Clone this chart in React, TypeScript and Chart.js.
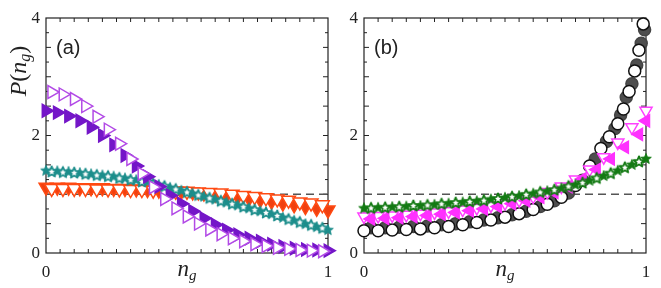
import React, { useEffect, useRef } from "react";
import { Chart, registerables } from "chart.js";

Chart.register(...registerables);

// ---------- panel (a) ----------
const xA = [0, 0.04, 0.08, 0.12, 0.16, 0.2, 0.24, 0.28, 0.32, 0.36, 0.4, 0.44, 0.48, 0.52, 0.56, 0.6, 0.64, 0.68, 0.72, 0.76, 0.8, 0.84, 0.88, 0.92, 0.96, 1];
const xAmid = [0.02, 0.06, 0.1, 0.14, 0.18, 0.22, 0.26, 0.3, 0.34, 0.38, 0.42, 0.46, 0.5, 0.54, 0.58, 0.62, 0.66, 0.7, 0.74, 0.78, 0.82, 0.86, 0.9, 0.94, 0.98];

const violetFilled = [2.42, 2.39, 2.33, 2.25, 2.14, 2.0, 1.84, 1.66, 1.48, 1.3, 1.13, 0.98, 0.84, 0.71, 0.59, 0.48, 0.39, 0.31, 0.25, 0.2, 0.15, 0.11, 0.08, 0.06, 0.05, 0.04];
const violetOpen = [2.74, 2.7, 2.62, 2.5, 2.32, 2.1, 1.86, 1.6, 1.35, 1.12, 0.92, 0.76, 0.62, 0.5, 0.4, 0.32, 0.25, 0.2, 0.15, 0.12, 0.09, 0.07, 0.05, 0.04, 0.03];
const tealFilled = [1.4, 1.39, 1.38, 1.36, 1.34, 1.32, 1.3, 1.27, 1.24, 1.21, 1.16, 1.11, 1.06, 1.01, 0.96, 0.91, 0.86, 0.81, 0.76, 0.71, 0.66, 0.6, 0.55, 0.49, 0.44, 0.39];
const tealOpen = [1.38, 1.37, 1.36, 1.34, 1.32, 1.3, 1.27, 1.24, 1.21, 1.17, 1.13, 1.08, 1.03, 0.98, 0.93, 0.88, 0.83, 0.78, 0.73, 0.68, 0.63, 0.57, 0.52, 0.47, 0.42];
const orangeFilled = [1.12, 1.12, 1.12, 1.11, 1.11, 1.11, 1.1, 1.1, 1.09, 1.08, 1.07, 1.06, 1.05, 1.04, 1.02, 1.0, 0.98, 0.96, 0.93, 0.91, 0.88, 0.85, 0.82, 0.79, 0.76, 0.73];
const orangeOpen = [1.1, 1.1, 1.1, 1.1, 1.09, 1.09, 1.09, 1.08, 1.08, 1.07, 1.06, 1.05, 1.05, 1.04, 1.03, 1.02, 1.0, 0.98, 0.96, 0.94, 0.92, 0.9, 0.87, 0.85, 0.82];

// ---------- panel (b) ----------
const xB = [0, 0.05, 0.1, 0.15, 0.2, 0.25, 0.3, 0.35, 0.4, 0.45, 0.5, 0.55, 0.6, 0.65, 0.7, 0.75, 0.8, 0.85, 0.9, 0.95, 1];
const xBmid = [0.025, 0.075, 0.125, 0.175, 0.225, 0.275, 0.325, 0.375, 0.425, 0.475, 0.525, 0.575, 0.625, 0.675, 0.725, 0.775, 0.825, 0.875, 0.925, 0.975];
const xBmidEnd = [0.025, 0.075, 0.125, 0.175, 0.225, 0.275, 0.325, 0.375, 0.425, 0.475, 0.525, 0.575, 0.625, 0.675, 0.725, 0.775, 0.825, 0.875, 0.925, 0.975, 1];

const circleOpenX = [0, 0.05, 0.1, 0.15, 0.2, 0.25, 0.3, 0.35, 0.4, 0.45, 0.5, 0.55, 0.6, 0.65, 0.7, 0.75, 0.8, 0.84, 0.87, 0.9, 0.92, 0.94, 0.96, 0.975, 0.99];
const circleOpen = [0.38, 0.38, 0.39, 0.4, 0.41, 0.43, 0.45, 0.48, 0.52, 0.56, 0.61, 0.67, 0.74, 0.83, 0.95, 1.15, 1.48, 1.78, 1.98, 2.2, 2.45, 2.75, 3.1, 3.45, 3.9];
const circleFilledX = [0.025, 0.075, 0.125, 0.175, 0.225, 0.275, 0.325, 0.375, 0.425, 0.475, 0.525, 0.575, 0.625, 0.675, 0.725, 0.775, 0.82, 0.86, 0.89, 0.91, 0.93, 0.95, 0.967, 0.983, 0.995];
const circleFilled = [0.43, 0.43, 0.44, 0.45, 0.46, 0.48, 0.5, 0.53, 0.56, 0.6, 0.65, 0.71, 0.79, 0.89, 1.02, 1.24, 1.6, 1.9, 2.12, 2.35, 2.65, 2.88, 3.2, 3.57, 3.8];
const magentaOpen = [0.62, 0.63, 0.64, 0.65, 0.67, 0.69, 0.71, 0.74, 0.77, 0.81, 0.85, 0.9, 0.96, 1.04, 1.13, 1.25, 1.42, 1.63, 1.88, 2.14, 2.42];
const magentaFilled = [0.58, 0.59, 0.6, 0.62, 0.64, 0.66, 0.69, 0.72, 0.75, 0.79, 0.84, 0.89, 0.95, 1.03, 1.13, 1.26, 1.42, 1.6, 1.8, 2.02, 2.25];
const greenFilled = [0.76, 0.77, 0.78, 0.79, 0.8, 0.82, 0.84, 0.86, 0.88, 0.91, 0.94, 0.97, 1.01, 1.05, 1.1, 1.16, 1.23, 1.31, 1.4, 1.5, 1.6];
const greenOpen = [0.76, 0.77, 0.78, 0.8, 0.81, 0.83, 0.85, 0.87, 0.89, 0.92, 0.95, 0.99, 1.03, 1.07, 1.13, 1.19, 1.27, 1.35, 1.45, 1.55];

// uniform-distribution reference level
const refX = [0, 1];
const refY = [1, 1];

const yTickValues = [0, 2, 4];
const xTickValues = [0, 1];

const SERIF = '"Liberation Serif", "DejaVu Serif", serif';
const SANS = '"Liberation Sans", Arial, sans-serif';

const pts = (xs: number[], ys: number[]) => ys.map((y, i) => ({ x: xs[i], y }));

function starMarker(outer: number, fill: string, stroke: string, lw: number) {
  const pad = Math.ceil(lw) + 1;
  const size = Math.ceil(outer * 2 + pad * 2);
  const c = document.createElement("canvas");
  c.width = size;
  c.height = size;
  const g = c.getContext("2d")!;
  g.translate(size / 2, size / 2);
  g.beginPath();
  for (let i = 0; i < 10; i++) {
    const r = i % 2 === 0 ? outer : outer * 0.45;
    const a = -Math.PI / 2 + (i * Math.PI) / 5;
    g.lineTo(r * Math.cos(a), r * Math.sin(a));
  }
  g.closePath();
  g.fillStyle = fill;
  g.fill();
  if (lw > 0) {
    g.lineWidth = lw;
    g.strokeStyle = stroke;
    g.lineJoin = "round";
    g.stroke();
  }
  return c;
}

type Run = { t: string; italic?: boolean; size: number; dy?: number };

function drawRuns(ctx: CanvasRenderingContext2D, runs: Run[], cx: number, baseY: number) {
  const font = (r: Run) => `${r.italic ? "italic " : ""}${r.size}px ${SERIF}`;
  let total = 0;
  for (const r of runs) {
    ctx.font = font(r);
    total += ctx.measureText(r.t).width;
  }
  let x = cx - total / 2;
  ctx.textAlign = "left";
  ctx.textBaseline = "alphabetic";
  for (const r of runs) {
    ctx.font = font(r);
    ctx.fillText(r.t, x, baseY + (r.dy || 0));
    x += ctx.measureText(r.t).width;
  }
}

const nG: Run[] = [
  { t: "n", italic: true, size: 23 },
  { t: "g", italic: true, size: 15, dy: 4 },
];
const pOfNg: Run[] = [
  { t: "P", italic: true, size: 24 },
  { t: "(", size: 24 },
  { t: "n", italic: true, size: 24 },
  { t: "g", italic: true, size: 16, dy: 4 },
  { t: ")", size: 24 },
];

const framePlugin = {
  id: "frameTicks",
  beforeDatasetsDraw(chart: any) {
    const { ctx, chartArea: a, scales } = chart;
    const xs = scales.x;
    const ys = scales.y;
    ctx.save();
    ctx.strokeStyle = "#222";
    ctx.lineWidth = 1.2;
    ctx.strokeRect(a.left, a.top, a.right - a.left, a.bottom - a.top);
    ctx.lineWidth = 1;
    ctx.beginPath();
    for (let i = 1; i < 20; i++) {
      const px = xs.getPixelForValue(i * 0.05);
      ctx.moveTo(px, a.bottom);
      ctx.lineTo(px, a.bottom - 4);
      ctx.moveTo(px, a.top);
      ctx.lineTo(px, a.top + 4);
    }
    for (let i = 1; i < 16; i++) {
      const py = ys.getPixelForValue(i * 0.25);
      const len = i % 2 === 0 ? 5 : 3;
      ctx.moveTo(a.left, py);
      ctx.lineTo(a.left + len, py);
      ctx.moveTo(a.right, py);
      ctx.lineTo(a.right - len, py);
    }
    ctx.stroke();
    ctx.restore();
  },
  afterDraw(chart: any, _args: any, opts: any) {
    const { ctx, chartArea: a, scales } = chart;
    const xs = scales.x;
    const ys = scales.y;
    ctx.save();
    ctx.fillStyle = "#222";
    ctx.font = `17px ${SERIF}`;
    ctx.textAlign = "right";
    ctx.textBaseline = "middle";
    for (const v of yTickValues) ctx.fillText(String(v), a.left - 6, ys.getPixelForValue(v) + 0.5);
    ctx.textAlign = "center";
    for (const v of xTickValues) ctx.fillText(String(v), xs.getPixelForValue(v), a.bottom + 20);
    drawRuns(ctx, nG, (a.left + a.right) / 2, a.bottom + 23);
    if (opts.yTitle) {
      ctx.save();
      ctx.translate(19, 71);
      ctx.rotate(-Math.PI / 2);
      drawRuns(ctx, pOfNg, 0, 7);
      ctx.restore();
    }
    ctx.font = `20px ${SANS}`;
    ctx.textAlign = "left";
    ctx.textBaseline = "middle";
    ctx.fillText(opts.tag, a.left + 10, 48);
    ctx.restore();
  },
};

function markerSet(
  data: { x: number; y: number }[],
  style: any,
  color: string,
  fill: string,
  radius: number,
  rotation = 0,
  borderWidth = 1.5
) {
  return {
    type: "scatter",
    data,
    showLine: false,
    clip: false,
    pointStyle: style,
    pointRotation: rotation,
    pointRadius: radius,
    pointBorderColor: color,
    pointBackgroundColor: fill,
    pointBorderWidth: borderWidth,
  };
}

function refLine() {
  return {
    type: "line",
    data: pts(refX, refY),
    borderColor: "#555",
    borderWidth: 1.4,
    borderDash: [8, 5],
    pointRadius: 0,
    showLine: true,
    clip: false,
  };
}

function makeChart(canvas: HTMLCanvasElement, datasets: any[], leftWidth: number, rightPad: number, tag: string, yTitle: boolean) {
  return new Chart(canvas, {
    type: "scatter",
    data: { datasets },
    plugins: [framePlugin],
    options: {
      responsive: false,
      animation: false,
      devicePixelRatio: 1,
      events: [],
      layout: { padding: { left: 0, right: rightPad, top: 18, bottom: 0 } },
      plugins: {
        legend: { display: false },
        tooltip: { enabled: false },
        frameTicks: { tag, yTitle },
      } as any,
      scales: {
        x: {
          type: "linear",
          min: 0,
          max: 1,
          grid: { display: false },
          border: { display: false },
          ticks: { display: false },
          afterFit: (s: any) => {
            s.height = 35;
          },
        },
        y: {
          type: "linear",
          min: 0,
          max: 4,
          grid: { display: false },
          border: { display: false },
          ticks: { display: false },
          afterFit: (s: any) => {
            s.width = leftWidth;
          },
        },
      },
    } as any,
  });
}

export default function App() {
  const refA = useRef<HTMLCanvasElement>(null);
  const refB = useRef<HTMLCanvasElement>(null);

  useEffect(() => {
    const teal = "#1d8e8c";
    const green = "#137a13";
    const tealStar = starMarker(5.6, teal, teal, 0.8);
    const tealStarOpen = starMarker(5.6, "#ffffff", teal, 1.8);
    const greenStar = starMarker(5.6, green, green, 0.8);
    const greenStarOpen = starMarker(5.6, "#ffffff", green, 1.8);

    // first dataset is painted last (on top)
    const setsA = [
      markerSet(pts(xAmid, violetOpen), "triangle", "#b24ae6", "#ffffff", 7.4, 90),
      markerSet(pts(xA, violetFilled), "triangle", "#7416c8", "#7416c8", 7.4, 90),
      markerSet(pts(xAmid, tealOpen), tealStarOpen, teal, "#fff", 5),
      markerSet(pts(xA, tealFilled), tealStar, teal, teal, 5),
      markerSet(pts(xAmid, orangeOpen), "triangle", "#ff4a12", "#ffffff", 8, 180),
      markerSet(pts(xA, orangeFilled), "triangle", "#ff4a12", "#f04010", 8, 180),
      refLine(),
    ];
    const setsB = [
      markerSet(pts(xBmid, greenOpen), greenStarOpen, green, "#fff", 5),
      markerSet(pts(xB, greenFilled), greenStar, green, green, 5),
      markerSet(pts(xBmidEnd, magentaFilled), "triangle", "#ff30ff", "#ff30ff", 7, 270),
      markerSet(pts(xB, magentaOpen), "triangle", "#ff40ff", "#ffffff", 7, 180),
      markerSet(pts(circleOpenX, circleOpen), "circle", "#111", "#ffffff", 6),
      markerSet(pts(circleFilledX, circleFilled), "circle", "#444", "#4e4e4e", 6),
      refLine(),
    ];

    const a = makeChart(refA.current!, setsA, 46, 345 - 328, "(a)", true);
    const b = makeChart(refB.current!, setsB, 33, 330 - 315, "(b)", false);
    return () => {
      a.destroy();
      b.destroy();
    };
  }, []);

  return (
    <div style={{ position: "absolute", left: 0, top: 0, width: 661, height: 288, background: "#fff", overflow: "hidden" }}>
      <canvas ref={refA} width={345} height={288} style={{ position: "absolute", left: 0, top: 0 }} />
      <canvas ref={refB} width={330} height={288} style={{ position: "absolute", left: 331, top: 0 }} />
    </div>
  );
}
